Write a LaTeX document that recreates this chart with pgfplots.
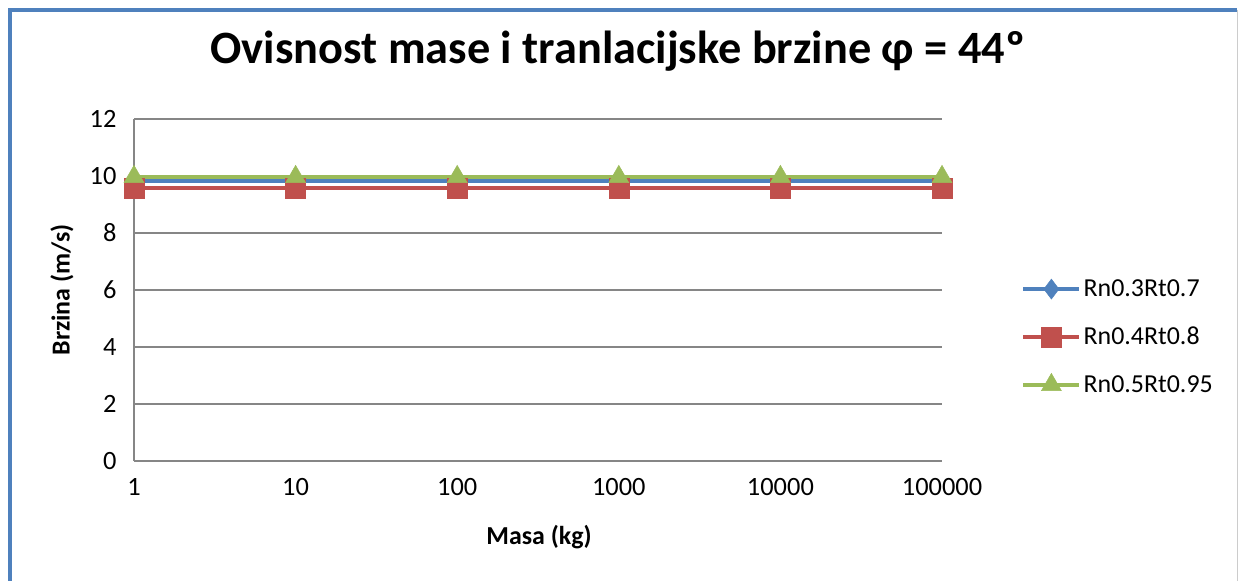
\documentclass[border=0pt]{standalone}
\usepackage{pgfplots}
\pgfplotsset{compat=1.18}
\usepackage{fontspec}
\setmainfont{Carlito}
\definecolor{sblue}{HTML}{4F81BD}
\definecolor{sred}{HTML}{C0504D}
\definecolor{sgreen}{HTML}{9BBB59}
\definecolor{gridc}{HTML}{868686}
\begin{document}
\begin{tikzpicture}[x=1bp,y=1bp]
\path (0,0) rectangle (1239,581);
\draw[sblue, line width=4bp] (10,0) -- (10,571) -- (1237,571);
\draw[gray!40, line width=1bp] (1237,0) -- (1237,571);
\begin{axis}[
  at={(134bp,120bp)}, anchor=south west,
  width=808bp, height=342bp, scale only axis,
  xmode=log, xmin=1, xmax=100000,
  ymin=0, ymax=12,
  ytick={0,2,4,6,8,10,12},
  xtick={1,10,100,1000,10000,100000},
  xticklabels={1,10,100,1000,10000,100000},
  minor x tick num=0,
  axis lines*=left,
  axis line style={gridc, line width=1.2bp, -},
  major tick length=0pt, minor tick length=0pt,
  ymajorgrids, grid style={gridc, line width=1.2bp},
  tick label style={font=\fontsize{26.5}{31}\selectfont, text=black},
  /pgf/number format/assume math mode=true,
  yticklabel style={xshift=-14bp},
  xticklabel style={yshift=-14bp},
  legend style={at={(1.094,0.3626)}, anchor=west, draw=none, fill=none,
    font=\fontsize{26}{31}\selectfont, row sep=25bp,
    /tikz/every even column/.append style={column sep=0bp}},
  legend cell align=left,
  legend image code/.code={\draw[mark repeat=2,mark phase=2] plot coordinates {(0bp,0bp) (28bp,0bp) (56bp,0bp)};},
  clip=false,
]
\addplot[sblue, line width=4.5bp, mark=diamond*, mark size=10bp, mark options={line width=0.5bp}] coordinates {(1,9.82) (10,9.82) (100,9.82) (1000,9.82) (10000,9.82) (100000,9.82)};
\addlegendentry{Rn0.3Rt0.7}
\addplot[sred, line width=4.5bp, mark=square*, mark size=10bp, mark options={line width=0.5bp}] coordinates {(1,9.57) (10,9.57) (100,9.57) (1000,9.57) (10000,9.57) (100000,9.57)};
\addlegendentry{Rn0.4Rt0.8}
\addplot[sgreen, line width=4.5bp, mark=triangle*, mark size=11.5bp, mark options={line width=0.5bp}] coordinates {(1,9.97) (10,9.97) (100,9.97) (1000,9.97) (10000,9.97) (100000,9.97)};
\addlegendentry{Rn0.5Rt0.95}
\end{axis}
\node[font=\fontsize{46.5}{52}\selectfont\bfseries] at (618,530) {Ovisnost mase i tranlacijske brzine φ = 44º};
\node[font=\fontsize{26}{30}\selectfont\bfseries] at (539,44) {Masa (kg)};
\node[font=\fontsize{26}{30}\selectfont\bfseries, rotate=90] at (62,291) {Brzina (m/s)};
\end{tikzpicture}
\end{document}
